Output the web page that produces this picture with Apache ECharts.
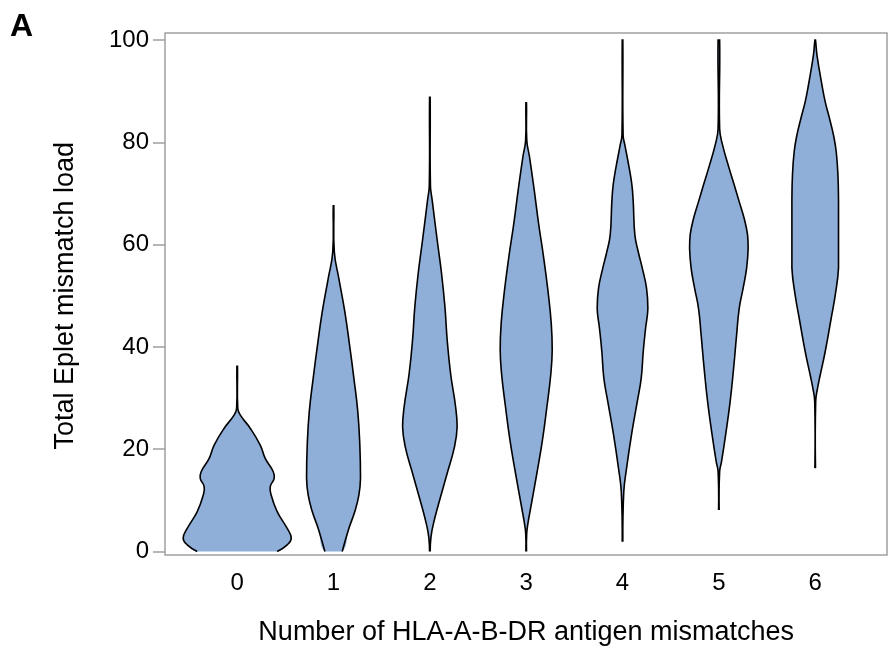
<!DOCTYPE html>
<html>
<head>
<meta charset="utf-8">
<script src="https://cdn.jsdelivr.net/npm/echarts@6/dist/echarts.min.js"></script>
<style>
html,body{margin:0;padding:0;background:#fff;}
#chart{width:889px;height:652px;}
</style>
</head>
<body>
<div id="chart"></div>
<script>
// Categories (number of HLA-A-B-DR antigen mismatches)
const categories = [0, 1, 2, 3, 4, 5, 6];
const xTickLabels = ['0', '1', '2', '3', '4', '5', '6'];

// Violin profiles: eplet load levels and half-widths (in category units)
const levels0 = [0, 1.3, 2.6, 4.5, 7.8, 11.0, 12.7, 14.3, 15.6, 18.2, 20.8, 24.1, 26.7, 28, 36.2];
const half0   = [0.415, 0.519, 0.561, 0.519, 0.415, 0.353, 0.343, 0.384, 0.374, 0.291, 0.239, 0.135, 0.031, 0.006, 0.003];

const levels1 = [0, 4.5, 7.8, 11.0, 14.3, 20.8, 27.3, 33.9, 40.4, 46.9, 53.4, 58.6, 67.6];
const half1   = [0.090, 0.159, 0.221, 0.263, 0.280, 0.273, 0.252, 0.211, 0.166, 0.117, 0.055, 0.008, 0.003];

const levels2 = [0, 2.9, 5.5, 8.8, 15.3, 20.5, 24.4, 28.3, 34.8, 41.3, 47.9, 54.4, 60.9, 68.7, 71.5, 88.8];
const half2   = [0.003, 0.012, 0.038, 0.083, 0.180, 0.256, 0.283, 0.267, 0.215, 0.180, 0.156, 0.121, 0.076, 0.024, 0.006, 0.003];

const levels3 = [0, 3.5, 5.5, 8.8, 15.3, 21.8, 28.3, 34.8, 39.4, 44.6, 51.1, 57.6, 64.2, 70.7, 77.2, 80.4, 87.7];
const half3   = [0.003, 0.005, 0.018, 0.049, 0.111, 0.169, 0.215, 0.256, 0.270, 0.260, 0.225, 0.180, 0.128, 0.083, 0.034, 0.006, 0.003];

const levels4 = [1.9, 11.7, 16.3, 22.8, 29.3, 33.9, 39.1, 43.6, 47.5, 51.5, 55.4, 58.6, 61.9, 68.4, 71.7, 74.9, 79.5, 81.4, 100];
const half4   = [0.003, 0.013, 0.042, 0.093, 0.153, 0.194, 0.215, 0.239, 0.263, 0.249, 0.205, 0.163, 0.128, 0.111, 0.097, 0.070, 0.024, 0.006, 0.003];

const levels5 = [8.1, 15.6, 17.6, 22.8, 29.3, 35.8, 42.3, 47.5, 51.5, 55.4, 59.3, 61.9, 65.1, 68.4, 71.7, 74.9, 79.5, 82.7, 100];
const half5   = [0.003, 0.008, 0.028, 0.070, 0.117, 0.153, 0.184, 0.211, 0.252, 0.288, 0.304, 0.298, 0.263, 0.211, 0.159, 0.107, 0.038, 0.008, 0.008];

const levels6 = [16.3, 29.3, 31.9, 34.5, 39.1, 45.6, 50.1, 55.4, 61.9, 68.4, 73.6, 78.2, 81.4, 84.7, 87.9, 91.2, 97.1, 100];
const half6   = [0.003, 0.005, 0.024, 0.052, 0.104, 0.166, 0.208, 0.242, 0.242, 0.242, 0.236, 0.218, 0.190, 0.148, 0.104, 0.070, 0.018, 0.003];

const allLevels = [levels0, levels1, levels2, levels3, levels4, levels5, levels6];
const allHalf = [half0, half1, half2, half3, half4, half5, half6];

const FONT = '"Liberation Sans", Arial, Helvetica, sans-serif';
const FILL = '#8fafd9';
const GRAY = '#a0a0a0';

const chart = echarts.init(document.getElementById('chart'), null, {renderer: 'canvas'});

function renderViolin(params, api) {
  const c = api.value(0);
  const lv = allLevels[c];
  const hw = allHalf[c];
  const right = [];
  const left = [];
  // right side bottom -> top
  for (let k = 0; k < lv.length; k++) {
    right.push(api.coord([c + hw[k], lv[k]]));
  }
  // left side top -> bottom
  for (let k = lv.length - 1; k >= 0; k--) {
    left.push(api.coord([c - hw[k], lv[k]]));
  }
  const outline = right.concat(left);
  let minX = Infinity, minY = Infinity, maxX = -Infinity, maxY = -Infinity;
  outline.forEach(function (p) {
    if (p[0] < minX) minX = p[0];
    if (p[0] > maxX) maxX = p[0];
    if (p[1] < minY) minY = p[1];
    if (p[1] > maxY) maxY = p[1];
  });
  const box = [[minX, minY], [maxX, maxY]];
  return {
    type: 'group',
    children: [
      {
        type: 'polygon',
        shape: {points: outline, smooth: 0.45, smoothConstraint: box},
        style: {fill: FILL, stroke: null}
      },
      {
        type: 'polyline',
        shape: {points: outline, smooth: 0.45, smoothConstraint: box},
        style: {fill: null, stroke: '#000', lineWidth: 1.6}
      }
    ]
  };
}

const option = {
  animation: false,
  backgroundColor: '#fff',
  textStyle: {fontFamily: FONT},
  title: {
    text: 'A', left: 10, top: 11, padding: 0,
    textStyle: {fontSize: 32, fontWeight: 'bold', color: '#000', fontFamily: FONT}
  },
  grid: [
    // data grid: category 0 .. 6 and load 0 .. 100
    {left: 237.2, right: 73.8, top: 40, bottom: 100.5, show: false},
    // plot frame
    {left: 165, right: 2, top: 33, bottom: 97, show: true, borderColor: GRAY, borderWidth: 1.5, backgroundColor: 'transparent'},
    // y axis ticks at frame edge
    {left: 165, right: 2, top: 40, bottom: 100.5, show: false}
  ],
  xAxis: [
    {
      gridIndex: 0, type: 'value', min: 0, max: 6, interval: 1,
      axisLine: {show: false}, axisTick: {show: false}, splitLine: {show: false},
      axisLabel: {
        fontSize: 24, color: '#000', margin: 20, fontFamily: FONT,
        formatter: function (v) { return xTickLabels[v] !== undefined ? xTickLabels[v] : ''; }
      },
      name: 'Number of HLA-A-B-DR antigen mismatches',
      nameLocation: 'middle', nameGap: 68,
      nameTextStyle: {fontSize: 27, color: '#000', fontFamily: FONT}
    },
    {gridIndex: 1, type: 'value', show: false, min: 0, max: 1},
    {gridIndex: 2, type: 'value', show: false, min: 0, max: 1}
  ],
  yAxis: [
    {gridIndex: 0, type: 'value', min: 0, max: 100, show: false},
    {gridIndex: 1, type: 'value', show: false, min: 0, max: 1},
    {
      gridIndex: 2, type: 'value', min: 0, max: 100, interval: 20,
      axisLine: {show: false},
      axisTick: {show: true, length: 12, lineStyle: {color: GRAY, width: 1.5}},
      splitLine: {show: false},
      axisLabel: {fontSize: 24, color: '#000', margin: 16, fontFamily: FONT},
      name: 'Total Eplet mismatch load',
      nameLocation: 'middle', nameGap: 86,
      nameTextStyle: {fontSize: 27, color: '#000', fontFamily: FONT}
    }
  ],
  series: [
    {
      type: 'custom',
      xAxisIndex: 0, yAxisIndex: 0,
      clip: false,
      renderItem: renderViolin,
      data: categories.map(function (c) { return [c, Math.max.apply(null, allLevels[c])]; })
    }
  ]
};
chart.setOption(option);
</script>
</body>
</html>
